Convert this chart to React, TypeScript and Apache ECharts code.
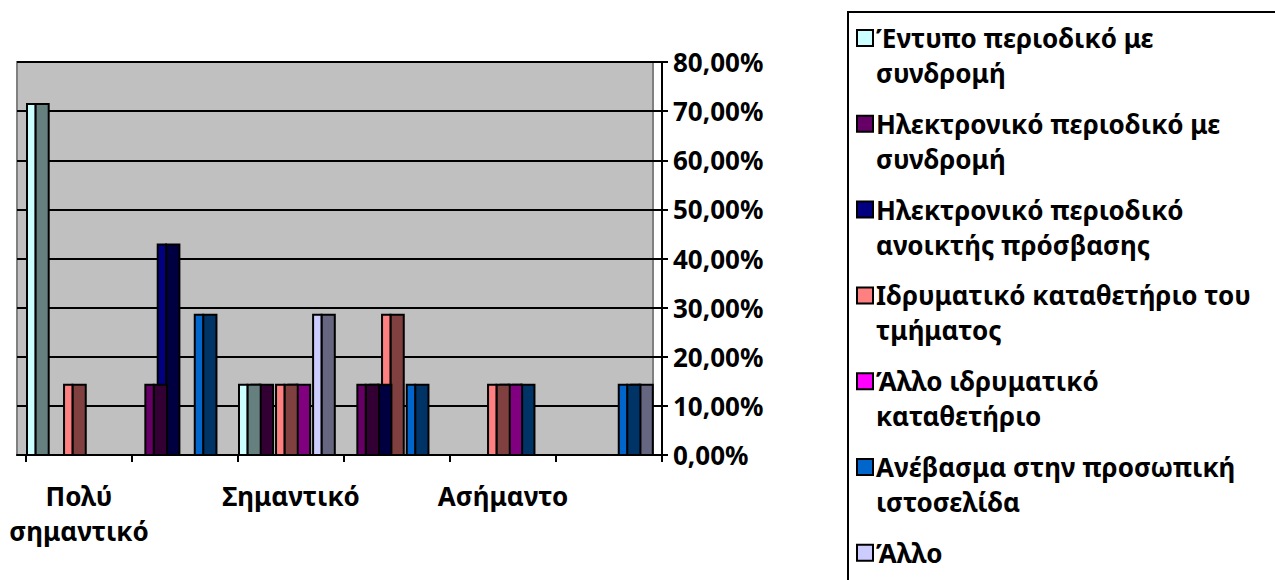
import React, { useEffect, useRef } from "react";
import * as echarts from "echarts";

const categories = [
  "Πολύ σημαντικό",
  "Αρκετά σημαντικό",
  "Σημαντικό",
  "Λίγο σημαντικό",
  "Ασήμαντο",
  "Καθόλου σημαντικό",
];

const seriesNames = [
  "Έντυπο περιοδικό με συνδρομή",
  "Ηλεκτρονικό περιοδικό με συνδρομή",
  "Ηλεκτρονικό περιοδικό ανοικτής πρόσβασης",
  "Ιδρυματικό καταθετήριο του τμήματος",
  "Άλλο ιδρυματικό καταθετήριο",
  "Ανέβασμα στην προσωπική ιστοσελίδα",
  "Άλλο",
];

const legendLabels = [
  "Έντυπο περιοδικό με\nσυνδρομή",
  "Ηλεκτρονικό περιοδικό με\nσυνδρομή",
  "Ηλεκτρονικό περιοδικό\nανοικτής πρόσβασης",
  "Ιδρυματικό καταθετήριο του\nτμήματος",
  "Άλλο ιδρυματικό\nκαταθετήριο",
  "Ανέβασμα στην προσωπική\nιστοσελίδα",
  "Άλλο",
];

const printedSub = [71.43, 0, 14.29, 0, 0, 0];
const electronicSub = [0, 14.29, 14.29, 14.29, 0, 0];
const electronicOpen = [0, 42.86, 0, 14.29, 0, 0];
const deptRepository = [14.29, 0, 14.29, 28.57, 14.29, 0];
const otherRepository = [0, 0, 14.29, 0, 14.29, 0];
const personalSite = [0, 28.57, 0, 14.29, 14.29, 14.29];
const other = [0, 0, 28.57, 0, 0, 14.29];

const seriesValues = [
  printedSub,
  electronicSub,
  electronicOpen,
  deptRepository,
  otherRepository,
  personalSite,
  other,
];

const frontColors = ["#CCFFFF", "#660066", "#000080", "#FF8080", "#FF00FF", "#0066CC", "#CCCCFF"];
const sideColors = ["#668080", "#330033", "#000040", "#804040", "#800080", "#003366", "#666680"];

const yTicks = [0, 10, 20, 30, 40, 50, 60, 70, 80];

const FONT = "'Noto Sans', 'Open Sans', sans-serif";
const FS = 26;

export default function App() {
  const ref = useRef<HTMLDivElement>(null);

  useEffect(() => {
    if (!ref.current) return;
    const chart = echarts.init(ref.current, undefined, { renderer: "svg" });

    const OFFSET = 1 / 106;
    const SLOT = 12.35 / 106;
    const FRONT = 8.4 / 106;
    const SIDE = 13.3 / 106;

    const series = seriesNames.map((name, i) => ({
      type: "custom",
      name,
      z: 20 - i,
      xAxisIndex: 0,
      yAxisIndex: 0,
      data: categories.map((c, k) => [k, seriesValues[i][k]]),
      encode: { x: 0, y: 1 },
      renderItem: (params: any, api: any) => {
        const v = api.value(1);
        if (!v) return null;
        const ci = api.value(0);
        const base = api.coord([ci, 0]);
        const top = api.coord([ci, v]);
        const band = api.size([1, 0])[0];
        const start = base[0] - band / 2;
        const x = start + band * (OFFSET + i * SLOT);
        const fw = band * FRONT;
        const sw = band * SIDE;
        const h = base[1] - top[1];
        return {
          type: "group",
          children: [
            {
              type: "rect",
              shape: { x: x + fw, y: top[1], width: sw, height: h },
              style: { fill: sideColors[i], stroke: "#000", lineWidth: 2 },
            },
            {
              type: "rect",
              shape: { x, y: top[1], width: fw, height: h },
              style: { fill: frontColors[i], stroke: "#000", lineWidth: 2 },
            },
          ],
        };
      },
    }));

    const legendElements: any[] = [];
    legendElements.push({
      type: "rect",
      shape: { x: 848, y: 12, width: 500, height: 620 },
      style: { fill: "#fff", stroke: "#000", lineWidth: 2 },
      z: -50,
    });
    legendLabels.forEach((label, i) => {
      const cy = 38 + 85.8 * i;
      legendElements.push({
        type: "rect",
        shape: { x: 857, y: cy - 8, width: 16, height: 16 },
        style: { fill: frontColors[i], stroke: "#000", lineWidth: 2 },
      });
      legendElements.push({
        type: "text",
        x: 876,
        y: cy - 17.5,
        style: {
          text: label,
          font: `bold ${FS}px ${FONT}`,
          fill: "#000",
          lineHeight: 35,
          verticalAlign: "top",
        },
      });
    });

    const option: any = {
      animation: false,
      backgroundColor: "#fff",
      grid: [
        {
          left: 26,
          right: 613,
          top: 62,
          bottom: 125,
          containLabel: false,
          outerBoundsMode: "none",
        },
        {
          left: 17,
          right: 613,
          top: 62,
          bottom: 125,
          containLabel: false,
          outerBoundsMode: "none",
        },
      ],
      graphic: [
        {
          type: "rect",
          z: -100,
          shape: { x: 17, y: 62, width: 636, height: 393 },
          style: { fill: "#C0C0C0", stroke: "#808080", lineWidth: 2 },
        },
        ...legendElements,
      ],
      xAxis: [
        {
          type: "category",
          gridIndex: 0,
          data: categories,
          boundaryGap: true,
          axisLine: { show: true, lineStyle: { color: "#000", width: 2 } },
          axisTick: { show: true, interval: 0, length: 7, lineStyle: { color: "#000", width: 2 } },
          axisLabel: {
            interval: 1,
            color: "#000",
            fontFamily: FONT,
            fontWeight: "bold",
            fontSize: FS,
            lineHeight: 35,
            margin: 23,
            formatter: (val: string, idx: number) =>
              idx === 0 ? val.replace(" ", "\n") : val,
          },
          splitLine: { show: false },
        },
        {
          type: "value",
          gridIndex: 1,
          min: 0,
          max: 1,
          axisLine: { show: true, onZero: false, lineStyle: { color: "#000", width: 2 } },
          axisTick: { show: false },
          axisLabel: { show: false },
          splitLine: { show: false },
        },
      ],
      yAxis: [
        {
          type: "value",
          gridIndex: 0,
          position: "right",
          min: yTicks[0],
          max: yTicks[yTicks.length - 1],
          interval: 10,
          axisLine: { show: true, lineStyle: { color: "#000", width: 2 } },
          axisTick: { show: true, length: 6, lineStyle: { color: "#000", width: 2 } },
          axisLabel: {
            color: "#000",
            fontFamily: FONT,
            fontWeight: "bold",
            fontSize: FS,
            margin: 11,
            formatter: (v: number) => v.toFixed(2).replace(".", ",") + "%",
          },
          splitLine: { show: false },
        },
        {
          type: "value",
          gridIndex: 1,
          min: yTicks[0],
          max: yTicks[yTicks.length - 1],
          interval: 10,
          axisLine: { show: false },
          axisTick: { show: false },
          axisLabel: { show: false },
          splitLine: { show: true, lineStyle: { color: "#000", width: 2 } },
        },
      ],
      series,
    };

    chart.setOption(option);
    return () => chart.dispose();
  }, []);

  return (
    <div
      ref={ref}
      style={{ position: "absolute", left: 0, top: 0, width: 1275, height: 580 }}
    />
  );
}
